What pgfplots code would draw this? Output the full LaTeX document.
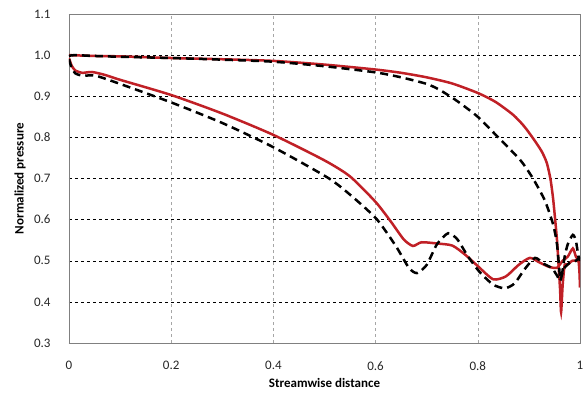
\documentclass[border=0pt]{standalone}
\usepackage{pgfplots}
\pgfplotsset{compat=1.18}
\usetikzlibrary{calc}
\usepackage{fontspec}
\setmainfont{Carlito}
\definecolor{cred}{RGB}{192,32,38}
\definecolor{frame}{RGB}{128,128,128}
\begin{document}
\begin{tikzpicture}
\useasboundingbox (-69pt,-49pt) rectangle (517pt,343pt);
\begin{axis}[
  at={(0,0)}, anchor=south west,
  scale only axis, width=511pt, height=329pt,
  xmin=0, xmax=1, ymin=0.3, ymax=1.1,
  xtick={0,0.2,0.4,0.6,0.8,1},
  xticklabels={0,0.2,0.4,0.6,0.8,1},
  ytick={0.3,0.4,0.5,0.6,0.7,0.8,0.9,1.0,1.1},
  yticklabel style={/pgf/number format/fixed, /pgf/number format/fixed zerofill, /pgf/number format/precision=1},
  /pgf/number format/assume math mode=true,
  major tick length=0pt,
  axis line style={frame, line width=0.8pt},
  ymajorgrids, xmajorgrids,
  y grid style={black, dashed, line width=0.5pt},
  x grid style={gray!70, dashed, line width=0.5pt},
  tick label style={font=\fontsize{13}{15}\selectfont, text=black!85},
  xticklabel style={yshift=-15pt},
  yticklabel style={xshift=-15pt},
  xlabel={\textbf{Streamwise distance}},
  ylabel={\textbf{Normalized pressure}},
  label style={font=\fontsize{13}{15}\selectfont},
  xlabel style={at={($(axis description cs:0.5,0)+(0,-40pt)$)}, anchor=center},
  ylabel style={at={($(axis description cs:0,0.5)+(-49pt,0)$)}, anchor=center},
  clip=true,
]
% red upper
\addplot[cred, line width=2.5pt, smooth, tension=0.4] coordinates {
(0,1.0)(0.05,0.998)(0.1,0.997)(0.2,0.993)(0.3,0.99)(0.4,0.986)(0.5,0.977)(0.6,0.965)(0.65,0.957)(0.7,0.946)(0.75,0.931)(0.8,0.908)(0.835,0.886)(0.869,0.855)(0.89,0.828)(0.908,0.798)(0.925,0.766)(0.935,0.738)(0.942,0.70)(0.947,0.655)(0.951,0.605)(0.955,0.55)(0.958,0.49)(0.961,0.43)(0.963,0.375)(0.966,0.44)(0.97,0.49)(0.975,0.49)(0.985,0.5)(0.993,0.5)(1.0,0.5)};
% red lower
\addplot[cred, line width=2.5pt, smooth, tension=0.4] coordinates {
(0,0.993)(0.005,0.975)(0.012,0.963)(0.026,0.957)(0.045,0.959)(0.07,0.952)(0.1,0.94)(0.2,0.903)(0.3,0.858)(0.4,0.806)(0.5,0.744)(0.55,0.705)(0.6,0.643)(0.63,0.595)(0.655,0.552)(0.673,0.536)(0.69,0.545)(0.72,0.542)(0.75,0.537)(0.775,0.515)(0.8,0.487)(0.83,0.455)(0.855,0.462)(0.88,0.49)(0.902,0.507)(0.922,0.495)(0.94,0.485)(0.955,0.483)(0.966,0.5)(0.976,0.51)(0.986,0.53)(0.992,0.51)(0.997,0.5)(0.999,0.47)(1.0,0.435)};
% black upper
\addplot[black, line width=2.5pt, dash pattern=on 8pt off 5pt, smooth, tension=0.4] coordinates {
(0,0.998)(0.01,1.0)(0.05,0.998)(0.1,0.996)(0.2,0.993)(0.3,0.989)(0.4,0.984)(0.5,0.973)(0.6,0.958)(0.65,0.946)(0.7,0.93)(0.726,0.915)(0.76,0.888)(0.8,0.85)(0.84,0.8)(0.883,0.745)(0.908,0.70)(0.931,0.647)(0.947,0.59)(0.955,0.54)(0.961,0.46)(0.965,0.47)(0.97,0.51)(0.976,0.54)(0.986,0.563)(0.992,0.548)(0.997,0.51)(1.0,0.5)};
% black lower
\addplot[black, line width=2.5pt, dash pattern=on 8pt off 5pt, smooth, tension=0.4] coordinates {
(0,0.99)(0.005,0.97)(0.012,0.956)(0.026,0.95)(0.052,0.95)(0.1,0.93)(0.2,0.885)(0.3,0.835)(0.4,0.776)(0.509,0.70)(0.56,0.65)(0.603,0.6)(0.64,0.535)(0.665,0.483)(0.681,0.47)(0.7,0.49)(0.72,0.54)(0.742,0.567)(0.76,0.552)(0.78,0.512)(0.804,0.472)(0.83,0.442)(0.853,0.433)(0.872,0.445)(0.892,0.48)(0.912,0.507)(0.93,0.492)(0.945,0.482)(0.956,0.462)(0.961,0.45)(0.968,0.48)(0.98,0.495)(0.992,0.5)(1.0,0.51)};
\end{axis}
\end{tikzpicture}
\end{document}
